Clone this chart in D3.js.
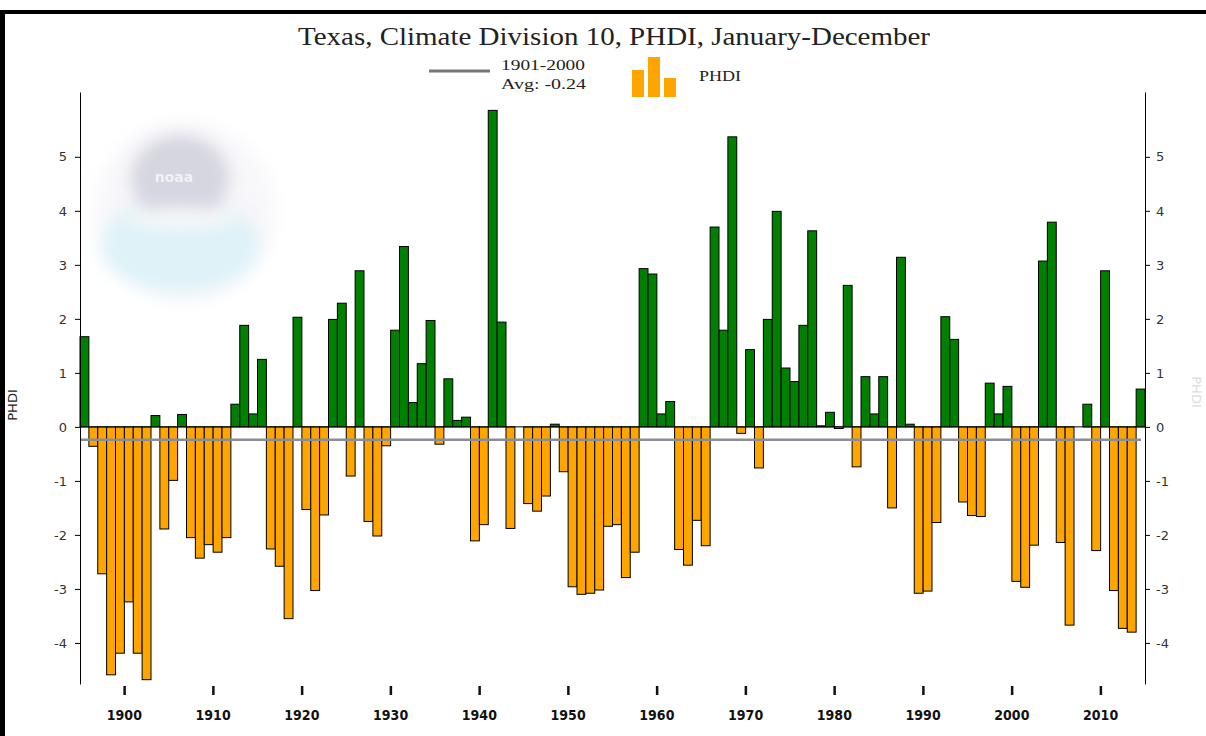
<!DOCTYPE html>
<meta charset="utf-8">
<style>
body{ margin:0; background:#fff; }
svg.vis{ position:absolute; left:0; top:0; }
.ytick text{ font-family:"DejaVu Sans",Verdana,sans-serif; font-size:13px; fill:#333; }
.ytick line, .ytick path{ stroke:#000; }
.xlab{ font-family:"DejaVu Sans Condensed","DejaVu Sans",sans-serif; font-stretch:condensed; font-weight:bold; font-size:14px; fill:#111; }
.serif{ font-family:"Liberation Serif","Times New Roman",serif; fill:#222; }
</style>
<body>
<script src="https://cdnjs.cloudflare.com/ajax/libs/d3/7.8.5/d3.min.js"></script>
<script>

var width = 1206,
    height = 736;

// PHDI, Jan-Dec, 1895..2014
var firstYear = 1895;
var phdi = [
    1.67,-0.36,-2.72,-4.59,-4.19,-3.24,-4.19,-4.68,0.21,-1.89,
    -0.99,0.23,-2.05,-2.43,-2.18,-2.32,-2.05,0.42,1.88,0.24,
    1.25,-2.26,-2.58,-3.55,2.03,-1.53,-3.03,-1.63,1.99,2.29,
    -0.91,2.89,-1.75,-2.02,-0.35,1.79,3.34,0.45,1.17,1.97,
    -0.32,0.89,0.12,0.18,-2.11,-1.81,5.86,1.94,-1.88,0.00,
    -1.42,-1.56,-1.28,0.05,-0.83,-2.96,-3.10,-3.08,-3.02,-1.84,
    -1.81,-2.79,-2.32,2.93,2.83,0.24,0.47,-2.27,-2.56,-1.73,
    -2.20,3.70,1.79,5.37,-0.12,1.43,-0.76,1.99,3.99,1.09,
    0.84,1.88,3.63,0.02,0.27,-0.03,2.62,-0.74,0.93,0.24,
    0.93,-1.50,3.14,0.05,-3.08,-3.04,-1.77,2.04,1.62,-1.39,
    -1.64,-1.66,0.81,0.24,0.75,-2.86,-2.97,-2.19,3.07,3.79,
    -2.14,-3.67,0.00,0.42,-2.29,2.89,-3.03,-3.73,-3.80,0.70
];
var average = -0.24;
var yTicks = [-4,-3,-2,-1,0,1,2,3,4,5];
var xTicks = [1900,1910,1920,1930,1940,1950,1960,1970,1980,1990,2000,2010];

var data = phdi.map(function(v,i){ return {year:firstYear+i, value:v}; });

var svg = d3.select("body").append("svg")
    .attr("class","vis")
    .attr("width", width)
    .attr("height", height);

var defs = svg.append("defs");
defs.append("filter").attr("id","blur")
    .attr("x","-30%").attr("y","-30%").attr("width","160%").attr("height","160%")
    .append("feGaussianBlur").attr("stdDeviation",8);

// frame
svg.append("rect").attr("x",0).attr("y",10).attr("width",5).attr("height",height-10).attr("fill","#000");
svg.append("rect").attr("x",0).attr("y",10).attr("width",width).attr("height",4).attr("fill","#000");

// faded logo watermark
var logo = svg.append("g").attr("filter","url(#blur)").attr("opacity",0.5);
logo.append("circle").attr("cx",185).attr("cy",212).attr("r",90).attr("fill","#f1eff6");
logo.append("ellipse").attr("cx",180).attr("cy",245).attr("rx",80).attr("ry",48).attr("fill","#bfe6f0");
logo.append("ellipse").attr("cx",180).attr("cy",178).attr("rx",50).attr("ry",44).attr("fill","#aeaec2");
logo.append("ellipse").attr("cx",182).attr("cy",218).attr("rx",55).attr("ry",9).attr("fill","#f4f4f8");
svg.append("text").attr("x",174).attr("y",182).attr("text-anchor","middle")
    .attr("fill","#fff").attr("opacity",0.7)
    .style("font-family","DejaVu Sans").style("font-size","14px").style("font-weight","bold")
    .text("noaa");

var x = d3.scaleLinear()
    .domain([firstYear, firstYear + phdi.length])
    .range([80, 1145]);

var y = d3.scaleLinear()
    .domain([-4.76, 6.2])
    .range([684, 92]);

// bars
svg.append("g").selectAll("rect")
    .data(data)
    .enter().append("rect")
    .attr("x", function(d){ return x(d.year); })
    .attr("width", function(d){ return x(d.year+1) - x(d.year); })
    .attr("y", function(d){ return y(Math.max(0,d.value)); })
    .attr("height", function(d){ return Math.abs(y(d.value) - y(0)); })
    .attr("fill", function(d){ return d.value >= 0 ? "#008000" : "#ffa500"; })
    .attr("stroke","#000")
    .attr("stroke-width",1);

// zero line
svg.append("line").attr("x1",80).attr("x2",1145).attr("y1",y(0)).attr("y2",y(0))
    .attr("stroke","#000").attr("stroke-width",1);

// 1901-2000 average
svg.append("line").attr("x1",80).attr("x2",1141).attr("y1",y(average)).attr("y2",y(average))
    .attr("stroke","#8a8c9a").attr("stroke-width",2.5);

// axes
var fmt = function(d){ return String(d); };
svg.append("g").attr("class","ytick")
    .attr("transform","translate(80,0)")
    .call(d3.axisLeft(y).tickValues(yTicks).tickSize(5).tickSizeOuter(0).tickPadding(8).tickFormat(fmt));
svg.append("g").attr("class","ytick")
    .attr("transform","translate(1145,0)")
    .call(d3.axisRight(y).tickValues(yTicks).tickSize(5).tickSizeOuter(0).tickPadding(6).tickFormat(fmt));

var xt = svg.append("g").selectAll("g").data(xTicks).enter().append("g")
    .attr("transform", function(d){ return "translate(" + x(d) + ",0)"; });
xt.append("rect").attr("x",-1).attr("y",686).attr("width",2.5).attr("height",9).attr("fill","#111");
xt.append("text").attr("class","xlab").attr("y",720).attr("text-anchor","middle").text(function(d){ return d; });

// axis titles
svg.append("text").attr("transform","translate(17,405) rotate(-90)")
    .attr("text-anchor","middle")
    .style("font-family","DejaVu Sans").style("font-size","13px").attr("fill","#222")
    .text("PHDI");
svg.append("text").attr("transform","translate(1192,392) rotate(90)")
    .attr("text-anchor","middle")
    .style("font-family","DejaVu Sans").style("font-size","13px").attr("fill","#ddd")
    .text("PHDI");

// title
svg.append("text").attr("class","serif")
    .attr("x",298).attr("y",45)
    .attr("textLength",632).attr("lengthAdjust","spacingAndGlyphs")
    .style("font-size","25px")
    .text("Texas, Climate Division 10, PHDI, January-December");

// legend
svg.append("line").attr("x1",429).attr("x2",490).attr("y1",71).attr("y2",71)
    .attr("stroke","#777").attr("stroke-width",3);
svg.append("text").attr("class","serif").attr("x",501).attr("y",70)
    .attr("textLength",84).attr("lengthAdjust","spacingAndGlyphs")
    .style("font-size","15px").text("1901-2000");
svg.append("text").attr("class","serif").attr("x",501).attr("y",89)
    .attr("textLength",85).attr("lengthAdjust","spacingAndGlyphs")
    .style("font-size","15px").text("Avg: -0.24");

var icon = [{x:632,top:70},{x:648,top:57},{x:664,top:78}];
svg.append("g").selectAll("rect").data(icon).enter().append("rect")
    .attr("x",function(d){ return d.x; }).attr("y",function(d){ return d.top; })
    .attr("width",12).attr("height",function(d){ return 97 - d.top; })
    .attr("fill","#ffa500");
svg.append("text").attr("class","serif").attr("x",699).attr("y",81)
    .attr("textLength",42).attr("lengthAdjust","spacingAndGlyphs")
    .style("font-size","15px").text("PHDI");

</script>
